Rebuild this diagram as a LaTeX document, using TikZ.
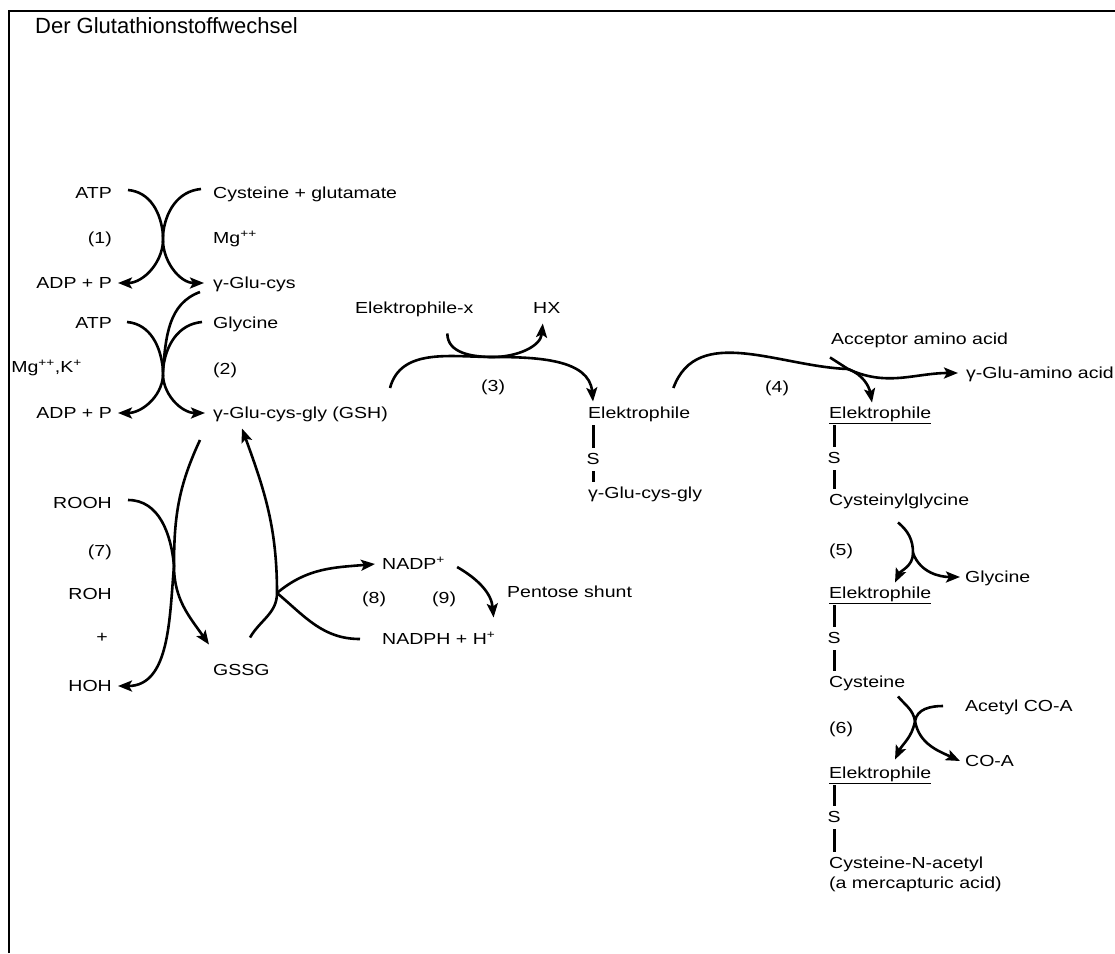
\documentclass[tikz,border=0pt]{standalone}
\usepackage{fontspec}
\setmainfont[FakeStretch=1.22]{Liberation Sans}
\newfontfamily\titlefont{Liberation Sans}
\usetikzlibrary{arrows.meta}

\begin{document}
\begin{tikzpicture}[
        x=1pt, y=1pt,
        >={Stealth[length=14pt,width=11pt,inset=3pt]},
        txt/.style={inner sep=0pt, text height=14pt, text depth=2.5pt, font=\fontsize{16}{19}\selectfont},
        lab/.style={txt, anchor=west},
        rlab/.style={txt, anchor=east},
        flow/.style={line width=2.6pt},
        bond/.style={line width=3pt, shorten <=4pt, shorten >=3pt}
    ]

        \useasboundingbox (0,0) rectangle (1115,-953);
        \draw [line width=2.6pt] (9,-953) -- (9,-11) -- (1115,-11);
        \node [anchor=base west, inner sep=0pt, font=\titlefont\fontsize{22}{26}\selectfont] (title) at (35,-33) {Der Glutathionstoffwechsel};

        % Synthesis
        \node [rlab] (atpA) at (112,-193) {ATP};
        \node [rlab] (num1) at (112,-238) {(1)};
        \node [rlab] (adpA) at (112,-283) {ADP + P};
        \node [rlab] (atpB) at (112,-323) {ATP};
        \node [rlab] (mgk) at (82,-367) {Mg\textsuperscript{++},K\textsuperscript{+}};
        \node [rlab] (adpB) at (112,-413) {ADP + P};
        \node [lab] (cys) at (213,-193) {Cysteine + glutamate};
        \node [lab] (mgA) at (213,-238) {Mg\textsuperscript{++}};
        \node [lab] (glucys) at (213,-283) {γ-Glu-cys};
        \node [lab] (gly) at (213,-323) {Glycine};
        \node [lab] (num2) at (213,-369) {(2)};
        \node [lab] (gsh) at (213,-413) {γ-Glu-cys-gly (GSH)};

        % Redox cycle
        \node [rlab] (rooh) at (112,-503) {ROOH};
        \node [rlab] (num7) at (112,-551) {(7)};
        \node [rlab] (roh) at (112,-594) {ROH};
        \node [rlab] (plus) at (108,-637) {+};
        \node [rlab] (hoh) at (112,-686) {HOH};
        \node [lab] (gssg) at (213,-670) {GSSG};
        \node [lab] (nadp) at (382,-564) {NADP\textsuperscript{+}};
        \node [lab] (num8) at (362,-598) {(8)};
        \node [lab] (num9) at (432,-598) {(9)};
        \node [lab] (nadph) at (382,-639) {NADPH + H\textsuperscript{+}};
        \node [lab] (pentose) at (507,-592) {Pentose shunt};

        % Conjugation
        \node [lab] (elx) at (355,-308) {Elektrophile-x};
        \node [lab] (hx) at (533,-308) {HX};
        \node [lab] (num3) at (481,-386) {(3)};
        \node [lab] (elA) at (588,-413) {Elektrophile};
        \node [txt] (sA) at (593,-459) {S};
        \node [lab] (tripep) at (588,-493) {γ-Glu-cys-gly};

        % Mercapturic acid
        \node [lab] (acc) at (831,-339) {Acceptor amino acid};
        \node [lab] (gluaa) at (966,-373) {γ-Glu-amino acid};
        \node [lab] (num4) at (765,-387) {(4)};
        \node [lab] (elB) at (829,-413) {\underline{Elektrophile}};
        \node [txt] (sB) at (834,-458) {S};
        \node [lab] (cysgly) at (829,-500) {Cysteinylglycine};
        \node [lab] (num5) at (829,-550) {(5)};
        \node [lab] (glyB) at (965,-577) {Glycine};
        \node [lab] (elC) at (829,-593) {\underline{Elektrophile}};
        \node [txt] (sC) at (834,-638) {S};
        \node [lab] (cyst) at (829,-682) {Cysteine};
        \node [lab] (acetyl) at (965,-706) {Acetyl CO-A};
        \node [lab] (num6) at (829,-728) {(6)};
        \node [lab] (coa) at (965,-761) {CO-A};
        \node [lab] (elD) at (829,-773) {\underline{Elektrophile}};
        \node [txt] (sD) at (834,-817) {S};
        \node [lab] (nacetyl) at (829,-863) {Cysteine-N-acetyl};
        \node [lab] (merc) at (829,-883) {(a mercapturic acid)};

        \coordinate (x1) at (163,-235);
        \coordinate (x2) at (163,-370);
        \coordinate (j3) at (493,-357);
        \coordinate (j4) at (848,-369);
        \coordinate (j5) at (913,-553);
        \coordinate (j6) at (915,-721);
        \coordinate (j7) at (174,-566);
        \coordinate (j8) at (277,-593);

        % Crossing reactions (1) and (2)
        \draw [flow,->] ([xshift=16pt,yshift=3pt]atpA.east) to[out=-5,in=95] (x1) to[out=-85,in=0] ([xshift=6pt]adpA.east);
        \draw [flow,->] ([xshift=-12pt,yshift=4pt]cys.west) to[out=185,in=85] (x1) to[out=-95,in=180] ([xshift=-9pt]glucys.west);
        \draw [flow,->] ([xshift=15pt,yshift=1pt]atpB.east) to[out=-5,in=95] (x2) to[out=-85,in=0] ([xshift=6pt]adpB.east);
        \draw [flow,->] ([xshift=-11pt,yshift=1pt]gly.west) to[out=185,in=85] (x2) to[out=-95,in=180] ([xshift=-8pt]gsh.west);
        \draw [flow] ([xshift=-13pt,yshift=-9pt]glucys.west) to[out=200,in=85] (x2);

        % Reaction (3)
        \draw [flow,->] ([shift={(2pt,25pt)}]gsh.east) to[out=75,in=180] (j3) to[out=0,in=95] ([shift={(5pt,3pt)}]elA.north west);
        \draw [flow,->] ([shift={(33pt,-17pt)}]elx.south) to[out=-90,in=180] (j3) to[out=0,in=-95] ([shift={(-4pt,-7pt)}]hx.south);

        % Reaction (4)
        \draw [flow] ([shift={(-17pt,25pt)}]elA.east) to[out=70,in=178] (j4);
        \draw [flow,->] (j4) to[out=-20,in=100] ([shift={(43pt,2pt)}]elB.north west);
        \draw [flow,->] (j4) to[out=-25,in=180] ([xshift=-8pt]gluaa.west);
        \draw [flow] ([shift={(-1pt,-10pt)}]acc.south west) -- (j4);

        % Reactions (5) and (6)
        \draw [flow] ([shift={(69pt,-14pt)}]cysgly.south west) to[out=-40,in=90] (j5);
        \draw [flow,->] (j5) to[out=-90,in=65] ([shift={(66pt,2pt)}]elC.north west);
        \draw [flow,->] (j5) to[out=-70,in=180] ([xshift=-5pt]glyB.west);
        \draw [flow,->] ([shift={(69pt,-6pt)}]cyst.south west) to[out=-50,in=100] (j6) to[out=-100,in=65] ([shift={(66pt,5pt)}]elD.north west);
        \draw [flow,->] ([xshift=-22pt]acetyl.west) to[out=180,in=80] (j6) to[out=-80,in=155] ([xshift=-5pt]coa.west);

        % Sulfur bonds
        \draw [bond] (sA.north |- elA.south) -- (sA.north);
        \draw [bond] (sA.south) -- (sA.south |- tripep.north);
        \draw [bond] (sB.north |- elB.south) -- (sB.north);
        \draw [bond] (sB.south) -- (sB.south |- cysgly.north);
        \draw [bond] (sC.north |- elC.south) -- (sC.north);
        \draw [bond] (sC.south) -- (sC.south |- cyst.north);
        \draw [bond] (sD.north |- elD.south) -- (sD.north);
        \draw [bond] (sD.south) -- (sD.south |- nacetyl.north);

        % GSH / GSSG cycle
        \draw [flow,->] ([shift={(-13pt,-27pt)}]gsh.west) to[out=-115,in=90] (j7) to[out=-90,in=125] ([shift={(-4pt,17pt)}]gssg.north west);
        \draw [flow,->] ([xshift=16pt,yshift=3pt]rooh.east) to[out=0,in=95] (j7) to[out=-95,in=0] ([xshift=6pt]hoh.east);
        \draw [flow,->] ([shift={(37pt,24pt)}]gssg.north west) to[out=60,in=-90] (j8) to[out=90,in=-70] ([shift={(29pt,-7pt)}]gsh.south west);
        \draw [flow,->] (j8) to[out=40,in=185] ([xshift=-7pt]nadp.west);
        \draw [flow] ([xshift=-22pt]nadph.west) to[out=180,in=-40] (j8);
        \draw [flow,->] ([shift={(12pt,-3pt)}]nadp.east) to[out=-30,in=95] ([shift={(-2pt,13pt)}]nadph.north east);

    \end{tikzpicture}
\end{document}
